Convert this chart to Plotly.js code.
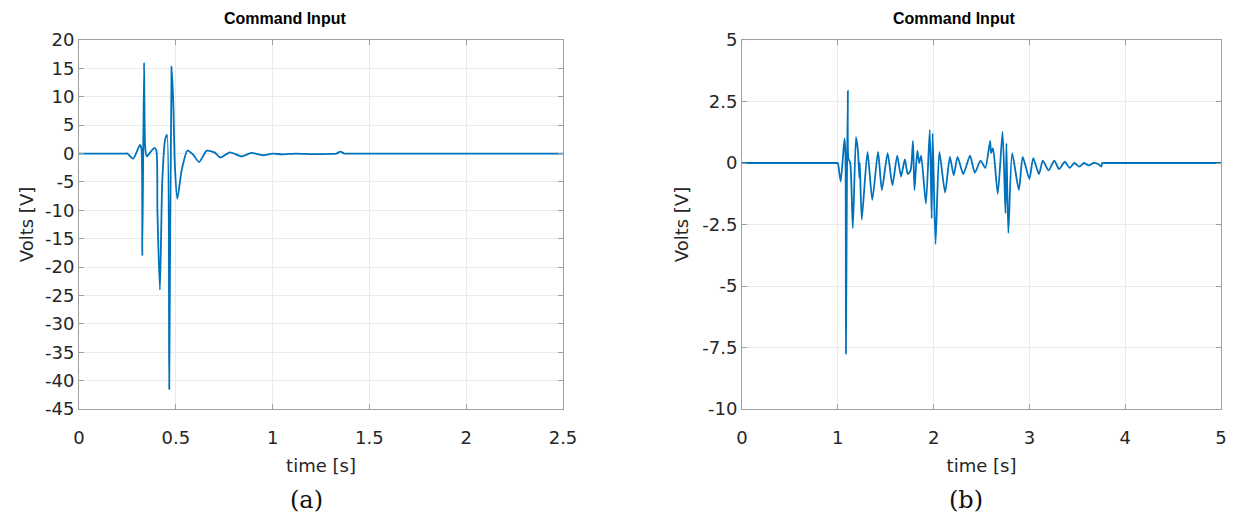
<!DOCTYPE html>
<html>
<head>
<meta charset="utf-8">
<script src="https://cdn.plot.ly/plotly-3.0.1.min.js"></script>
<style>html,body{margin:0;padding:0;background:#fff;}#chart{width:1243px;height:522px;}</style>
</head>
<body>
<div id="chart"></div>
<script>
// Panel (a): command input voltage vs time
const timeA = [0, 0.2, 0.24, 0.25, 0.28, 0.315, 0.322, 0.327, 0.336, 0.342, 0.35, 0.37, 0.39, 0.40, 0.405, 0.418, 0.43, 0.445, 0.455, 0.466, 0.478, 0.487, 0.495, 0.508, 0.53, 0.56, 0.59, 0.62, 0.66, 0.70, 0.73, 0.78, 0.84, 0.89, 0.95, 1.0, 1.05, 1.12, 1.2, 1.3, 1.33, 1.35, 1.37, 1.39, 1.45, 2.0, 2.5];
const voltsA = [0, 0, 0, 0, -0.9, 1.5, 1.0, -18, 16, 1, -0.5, 0.3, 1.0, 0.5, -10, -24, -5, 2.5, 3.3, -41.5, 15.3, 9, -2, -8, -3, 0.5, -0.2, -1.5, 0.5, 0.2, -0.7, 0.2, -0.5, 0.1, -0.3, 0, -0.15, 0, -0.1, -0.05, 0, 0.35, 0, 0, 0, 0, 0];

// Panel (b): command input voltage vs time
const timeB = [0, 0.5, 0.97, 0.99, 1.0, 1.03, 1.07, 1.08, 1.085, 1.095, 1.105, 1.11, 1.13, 1.157, 1.19, 1.21, 1.225, 1.23, 1.25, 1.31, 1.36, 1.42, 1.46, 1.52, 1.57, 1.62, 1.66, 1.70, 1.73, 1.76, 1.785, 1.80, 1.83, 1.85, 1.87, 1.92, 1.96, 1.98, 1.99, 2.02, 2.06, 2.12, 2.17, 2.21, 2.25, 2.31, 2.38, 2.43, 2.49, 2.54, 2.59, 2.60, 2.62, 2.67, 2.72, 2.75, 2.76, 2.78, 2.82, 2.89, 2.93, 3.0, 3.04, 3.1, 3.14, 3.2, 3.26, 3.31, 3.37, 3.42, 3.47, 3.52, 3.57, 3.62, 3.67, 3.72, 3.75, 3.76, 3.78, 3.85, 4.5, 5];
const voltsB = [0, 0, 0, 0, 0, -0.75, 1.0, 0.3, -7.75, -1, 2.95, 0.2, 0.0, -2.65, 1.05, 0.5, -0.6, 0, -2.3, 0.45, -1.5, 0.45, -1.1, 0.4, -0.9, 0.3, -0.55, 0.15, -0.45, -0.3, 0.9, -1.1, 0.5, 0, 0.3, -1.65, 1.35, -2.25, 1.2, -3.3, 0.45, -1.2, 0.25, -0.5, 0.25, -0.45, 0.3, -0.4, 0.1, -0.2, 0.9, 0.4, 0.6, -1.25, 1.27, -2.05, 0.8, -2.85, 0.4, -1.1, 0.25, -0.65, 0.2, -0.45, 0.1, -0.3, 0.1, -0.25, 0.05, -0.2, 0, -0.15, 0, -0.1, 0, -0.05, -0.15, 0, 0, 0, 0, 0];

// Tick labels
const xTicksA = [0, 0.5, 1, 1.5, 2, 2.5];
const xTickTextA = ['0', '0.5', '1', '1.5', '2', '2.5'];
const yTicksA = [-45, -40, -35, -30, -25, -20, -15, -10, -5, 0, 5, 10, 15, 20];
const yTickTextA = ['-45', '-40', '-35', '-30', '-25', '-20', '-15', '-10', '-5', '0', '5', '10', '15', '20'];
const xTicksB = [0, 1, 2, 3, 4, 5];
const xTickTextB = ['0', '1', '2', '3', '4', '5'];
const yTicksB = [-10, -7.5, -5, -2.5, 0, 2.5, 5];
const yTickTextB = ['-10', '-7.5', '-5', '-2.5', '0', '2.5', '5'];

const titleText = 'Command Input';
const xTitle = 'time [s]';
const yTitle = 'Volts [V]';
const panelLabels = ['(a)', '(b)'];

const W = 1243, H = 522;
const lineColor = '#0072BD';
const textColor = '#262626';
const tickFont = {family: 'DejaVu Sans', size: 18, color: textColor};
const axTitleFont = {family: 'DejaVu Sans', size: 18, color: textColor};

function axisBase(extra) {
  return Object.assign({
    showline: true, linecolor: '#a0a0a0', linewidth: 1, mirror: 'ticks',
    ticks: 'inside', ticklen: 5, tickcolor: '#a0a0a0',
    showgrid: true, gridcolor: '#ebebeb', gridwidth: 1,
    zeroline: false, tickfont: tickFont, tickmode: 'array', fixedrange: true
  }, extra);
}

const traces = [
  {x: timeA, y: voltsA, type: 'scatter', mode: 'lines', xaxis: 'x', yaxis: 'y',
   line: {color: lineColor, width: 1.8, shape: 'spline', smoothing: 0.6}, hoverinfo: 'skip', showlegend: false},
  {x: timeB, y: voltsB, type: 'scatter', mode: 'lines', xaxis: 'x2', yaxis: 'y2',
   line: {color: lineColor, width: 1.8, shape: 'spline', smoothing: 0.6}, hoverinfo: 'skip', showlegend: false}
];

const yDom = [1 - 409 / H, 1 - 40 / H];

const layout = {
  width: W, height: H,
  margin: {l: 0, r: 0, t: 0, b: 0},
  paper_bgcolor: '#ffffff', plot_bgcolor: '#ffffff',
  showlegend: false,
  xaxis: axisBase({domain: [79 / W, 563 / W], range: [0, 2.5], tickvals: xTicksA, ticktext: xTickTextA, anchor: 'y',
    ticklabelstandoff: 12, title: {text: xTitle, font: axTitleFont, standoff: 12}}),
  yaxis: axisBase({domain: yDom, range: [-45, 20], tickvals: yTicksA, ticktext: yTickTextA, anchor: 'x',
    title: {text: yTitle, font: axTitleFont, standoff: 6}}),
  xaxis2: axisBase({domain: [742 / W, 1221 / W], range: [0, 5], tickvals: xTicksB, ticktext: xTickTextB, anchor: 'y2',
    ticklabelstandoff: 12, title: {text: xTitle, font: axTitleFont, standoff: 12}}),
  yaxis2: axisBase({domain: yDom, range: [-10, 5], tickvals: yTicksB, ticktext: yTickTextB, anchor: 'x2',
    title: {text: yTitle, font: axTitleFont, standoff: 8}}),
  annotations: [
    {text: '<b>' + titleText + '</b>', xref: 'paper', yref: 'paper', x: 285 / W, y: 1 - 19 / H,
     xanchor: 'center', yanchor: 'middle', showarrow: false,
     font: {family: 'Liberation Sans', size: 16, color: '#000'}},
    {text: '<b>' + titleText + '</b>', xref: 'paper', yref: 'paper', x: 954 / W, y: 1 - 19 / H,
     xanchor: 'center', yanchor: 'middle', showarrow: false,
     font: {family: 'Liberation Sans', size: 16, color: '#000'}},
    {text: panelLabels[0], xref: 'paper', yref: 'paper', x: 306 / W, y: 1 - 500 / H,
     xanchor: 'center', yanchor: 'middle', showarrow: false,
     font: {family: 'DejaVu Serif', size: 24, color: '#111'}},
    {text: panelLabels[1], xref: 'paper', yref: 'paper', x: 966 / W, y: 1 - 500 / H,
     xanchor: 'center', yanchor: 'middle', showarrow: false,
     font: {family: 'DejaVu Serif', size: 24, color: '#111'}}
  ]
};

Plotly.newPlot('chart', traces, layout, {displayModeBar: false, staticPlot: true});
</script>
</body>
</html>
